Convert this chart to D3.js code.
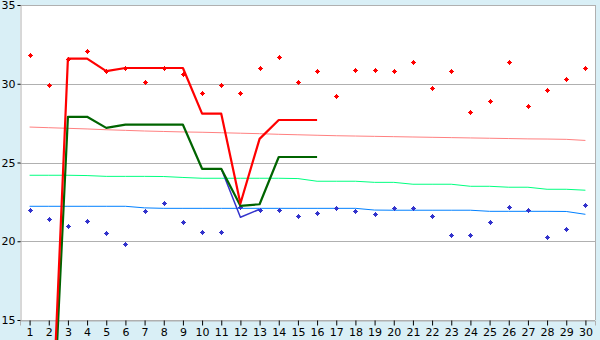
<!DOCTYPE html>
<html>
<head>
<meta charset="utf-8">
<script src="https://cdn.jsdelivr.net/npm/d3@7"></script>
<style>
  html, body { margin: 0; padding: 0; background: #d9eff6; }
  svg { display: block; }
  text { font-family: "DejaVu Sans", Verdana, sans-serif; font-size: 11px; fill: #000; }
</style>
</head>
<body>
<svg id="chart" width="600" height="340"></svg>
<script>
// ---------- data ----------
const categories = d3.range(1, 31);
const yTicks = [15, 20, 25, 30, 35];

const redPoints = [31.8, 29.9, 31.6, 32.1, 30.8, 31.0, 30.1, 31.0, 30.6, 29.4,
                   29.9, 29.4, 31.0, 31.7, 30.1, 30.8, 29.2, 30.9, 30.9, 30.8,
                   31.4, 29.7, 30.8, 28.2, 28.9, 31.4, 28.6, 29.6, 30.3, 31.0];
const bluePoints = [22.0, 21.4, 21.0, 21.3, 20.5, 19.8, 21.9, 22.4, 21.2, 20.6,
                    20.6, 22.2, 22.0, 22.0, 21.6, 21.8, 22.1, 21.9, 21.7, 22.1,
                    22.1, 21.6, 20.4, 20.4, 21.2, 22.2, 22.0, 20.3, 20.8, 22.3];

const redLine = [null, 3.3, 31.6, 31.6, 30.8, 31.0, 31.0, 31.0, 31.0, 28.1,
                 28.1, 22.4, 26.5, 27.7, 27.7, 27.7, null, null, null, null,
                 null, null, null, null, null, null, null, null, null, null];
const greenLine = [null, 2.5, 27.9, 27.9, 27.2, 27.4, 27.4, 27.4, 27.4, 24.6,
                   24.6, 22.25, 22.35, 25.35, 25.35, 25.35, null, null, null, null,
                   null, null, null, null, null, null, null, null, null, null];
const blueLine = [null, null, null, null, null, null, null, null, null, null,
                  24.6, 21.52, 22.03, null, null, null, null, null, null, null,
                  null, null, null, null, null, null, null, null, null, null];

const pinkTrend = [27.25, 27.21, 27.17, 27.13, 27.08, 27.04, 27.00, 26.97, 26.94, 26.92,
                   26.89, 26.86, 26.83, 26.79, 26.76, 26.73, 26.70, 26.68, 26.66, 26.64,
                   26.62, 26.60, 26.58, 26.56, 26.54, 26.52, 26.50, 26.49, 26.47, 26.40];
const greenTrend = [24.19, 24.19, 24.19, 24.17, 24.12, 24.12, 24.12, 24.11, 24.05, 24.00,
                    24.00, 24.00, 24.00, 24.00, 23.98, 23.81, 23.81, 23.81, 23.74, 23.74,
                    23.62, 23.62, 23.62, 23.49, 23.49, 23.43, 23.43, 23.30, 23.30, 23.24];
const blueTrend = [22.22, 22.22, 22.22, 22.22, 22.22, 22.22, 22.12, 22.09, 22.09, 22.09,
                   22.09, 22.09, 22.09, 22.09, 22.09, 22.09, 22.09, 22.09, 21.98, 21.97,
                   21.97, 21.97, 21.97, 21.97, 21.90, 21.90, 21.90, 21.90, 21.89, 21.71];

// ---------- layout ----------
const svg = d3.select("#chart");
const mLeft = 20, mRight = 595, mTop = 5, mBottom = 320;

const x = d3.scalePoint().domain(categories).range([mLeft, mRight]).padding(0.5);
const y = d3.scaleLinear().domain([15, 35]).range([mBottom, mTop]);

// plot background
svg.append("rect").attr("x", mLeft).attr("y", mTop)
  .attr("width", mRight - mLeft).attr("height", mBottom - mTop).attr("fill", "#ffffff");

// gridlines
svg.append("g").selectAll("line").data(yTicks).join("line")
  .attr("x1", mLeft).attr("x2", mRight)
  .attr("y1", d => Math.round(y(d)) + 0.5).attr("y2", d => Math.round(y(d)) + 0.5)
  .attr("stroke", "#b0b0b0").attr("stroke-width", 1);

// right border
svg.append("line").attr("x1", mRight + 0.5).attr("x2", mRight + 0.5)
  .attr("y1", mTop).attr("y2", mBottom).attr("stroke", "#b0b0b0");

// axes
const yAxis = svg.append("g").attr("transform", `translate(${mLeft + 0.5},0)`)
  .call(d3.axisLeft(y).tickValues(yTicks).tickSize(3).tickPadding(2).tickFormat(d3.format("d")));
yAxis.select(".domain").attr("stroke", "#b0b0b0");
yAxis.selectAll(".tick line").attr("stroke", "#000");
yAxis.selectAll("text").style("font-size", "11px").style("font-family", "DejaVu Sans");

const xAxis = svg.append("g").attr("transform", `translate(0,${Math.round(y(15)) + 0.5})`)
  .call(d3.axisBottom(x).tickSize(5).tickPadding(3));
xAxis.select(".domain").attr("stroke", "#b0b0b0");
xAxis.selectAll(".tick line").attr("stroke", "#000");
xAxis.selectAll("text").style("font-size", "11px").style("font-family", "DejaVu Sans");

// lines
function drawLine(vals, color, width) {
  const line = d3.line()
    .defined(d => d[1] !== null)
    .x(d => x(d[0]))
    .y(d => y(d[1]));
  svg.append("path")
    .datum(categories.map((c, i) => [c, vals[i]]))
    .attr("d", line)
    .attr("fill", "none")
    .attr("stroke", color)
    .attr("stroke-width", width)
    .attr("stroke-linejoin", "round");
}
drawLine(pinkTrend, "#ff8080", 1);
drawLine(greenTrend, "#00ff80", 1);
drawLine(blueTrend, "#0080ff", 1);

// markers
const markerPath = "M-0.5,-2.5H0.5V-1.5H1.5V-0.5H2.5V0.5H1.5V1.5H0.5V2.5H-0.5V1.5H-1.5V0.5H-2.5V-0.5H-1.5V-1.5H-0.5Z";
function drawPoints(vals, color) {
  svg.append("g").selectAll("path")
    .data(categories.map((c, i) => [c, vals[i]]))
    .join("path")
    .attr("d", markerPath)
    .attr("transform", d => `translate(${Math.round(x(d[0])) + 0.5},${Math.round(y(d[1])) + 0.5})`)
    .attr("fill", color)
    .attr("shape-rendering", "crispEdges");
}
drawPoints(bluePoints, "#3333cc");
drawPoints(redPoints, "#ff0000");

drawLine(blueLine, "#3333cc", 1.5);
drawLine(greenLine, "#006400", 2.2);
drawLine(redLine, "#ff0000", 2.2);
</script>
</body>
</html>
